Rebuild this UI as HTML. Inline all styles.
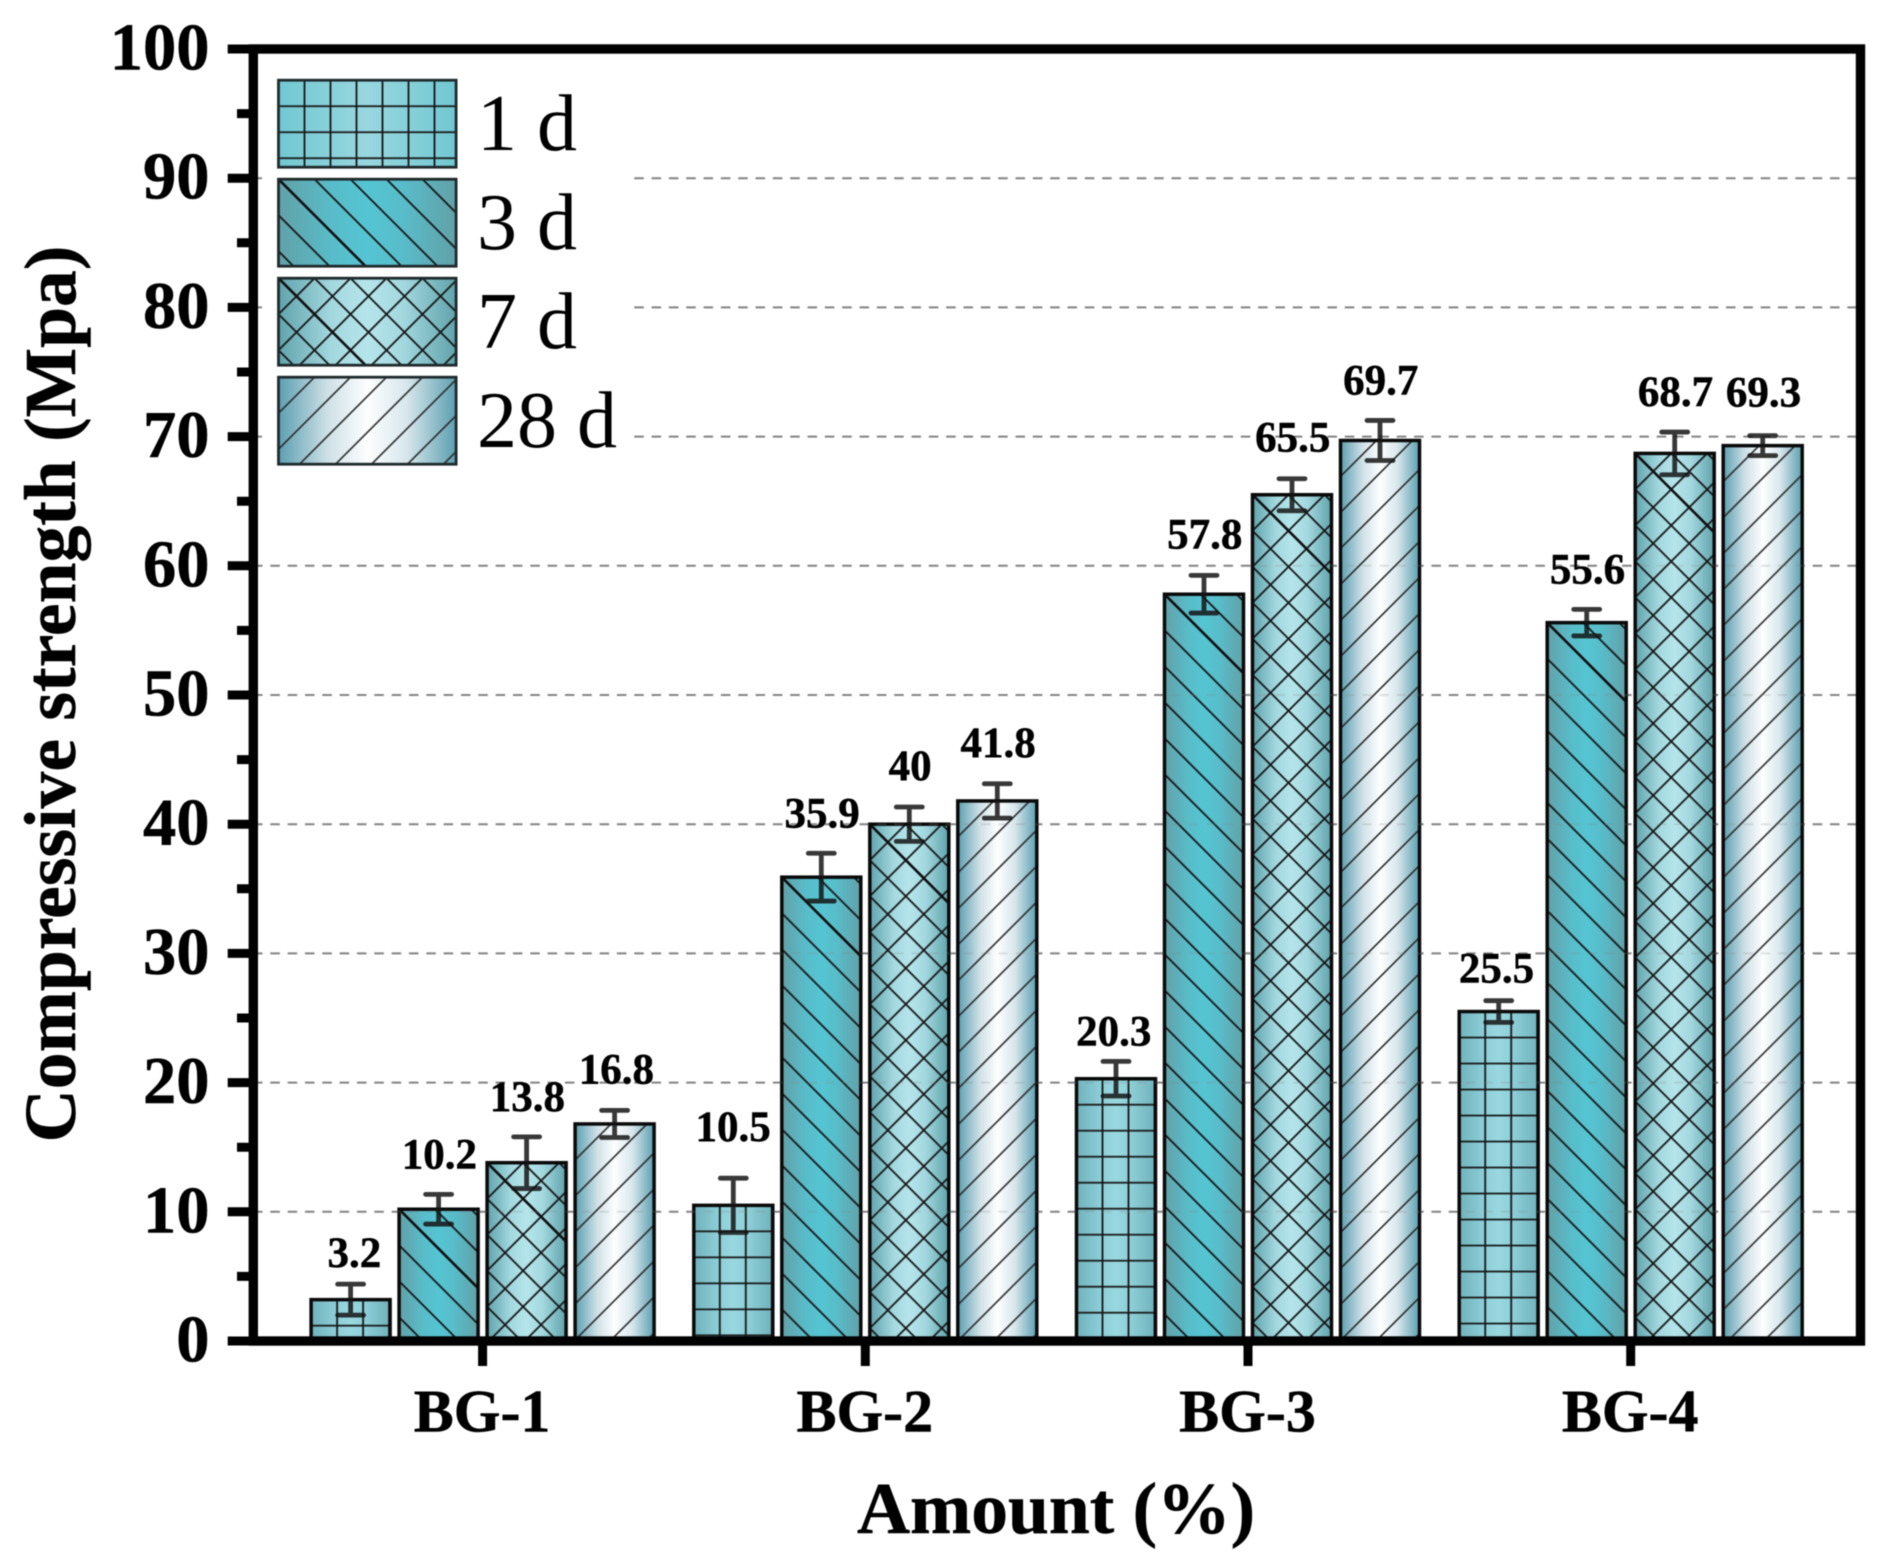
<!DOCTYPE html>
<html lang="en">
<head>
<meta charset="utf-8">
<title>Compressive strength by amount</title>
<style>
html,body{margin:0;padding:0;background:#fff;width:1890px;height:1563px;overflow:hidden}
svg{display:block;filter:blur(0.55px)}
text{font-family:"Liberation Serif",serif;fill:#000}
.b{font-weight:700;stroke:#000;stroke-width:0.5px}
</style>
</head>
<body>
<svg id="chart" xmlns="http://www.w3.org/2000/svg" width="1890" height="1563" viewBox="0 0 1890 1563">
<defs id="defs">
<linearGradient id="g1" x1="0" x2="1" y1="0" y2="0"><stop offset="0" stop-color="#70b2bc"/><stop offset=".3" stop-color="#8ccdd6"/><stop offset=".5" stop-color="#99d8e0"/><stop offset=".7" stop-color="#8ccdd6"/><stop offset="1" stop-color="#70b2bc"/></linearGradient>
<linearGradient id="g1legend" x1="0" x2="1" y1="0" y2="0"><stop offset="0" stop-color="#71c8d2"/><stop offset=".5" stop-color="#98d7df"/><stop offset="1" stop-color="#71c8d2"/></linearGradient>
<linearGradient id="g3" x1="0" x2="1" y1="0" y2="0"><stop offset="0" stop-color="#62a1a8"/><stop offset=".3" stop-color="#58bcc9"/><stop offset=".5" stop-color="#55c5d3"/><stop offset=".7" stop-color="#58bcc9"/><stop offset="1" stop-color="#62a1a8"/></linearGradient>
<linearGradient id="g7" x1="0" x2="1" y1="0" y2="0"><stop offset="0" stop-color="#60a3ac"/><stop offset=".3" stop-color="#a3d8df"/><stop offset=".5" stop-color="#b5e5eb"/><stop offset=".7" stop-color="#a3d8df"/><stop offset="1" stop-color="#60a3ac"/></linearGradient>
<linearGradient id="g28" x1="0" x2="1" y1="0" y2="0"><stop offset="0" stop-color="#5c9fb1"/><stop offset=".28" stop-color="#cfe1e7"/><stop offset=".5" stop-color="#fdfeff"/><stop offset=".72" stop-color="#d8e7ec"/><stop offset="1" stop-color="#5c9fb1"/></linearGradient>
</defs>
<g id="grid-under"></g>
<g id="bars"></g>
<g id="grid-over" opacity="0.22"></g>
<rect x="262" y="60" width="371" height="412" fill="#fff"></rect>
<g id="errors"></g>
<g id="labels"></g>
<g id="axes"></g>
<g id="legend"></g>
<text class="b" transform="translate(75 694) rotate(-90)" text-anchor="middle" font-size="73.6">Compressive strength (Mpa)</text>
<text class="b" x="1056" y="1533" text-anchor="middle" font-size="73.5">Amount (%)</text>
</svg>
<script>
// Chart data
const categories = ['BG-1', 'BG-2', 'BG-3', 'BG-4'];
const seriesNames = ['1 d', '3 d', '7 d', '28 d'];
const values1d = [3.2, 10.5, 20.3, 25.5];
const values3d = [10.2, 35.9, 57.8, 55.6];
const values7d = [13.8, 40, 65.5, 68.7];
const values28d = [16.8, 41.8, 69.7, 69.3];
const errors1d = [1.2, 2.1, 1.34, 0.84];
const errors3d = [1.15, 1.85, 1.46, 1.03];
const errors7d = [2.0, 1.33, 1.24, 1.65];
const errors28d = [1.05, 1.33, 1.55, 0.77];
const yMajorTicks = [0, 10, 20, 30, 40, 50, 60, 70, 80, 90, 100];
const yMinorTicks = [5, 15, 25, 35, 45, 55, 65, 75, 85, 95];
const gridValues = [10, 20, 30, 40, 50, 60, 70, 80, 90];

// Layout: clearance in px between an error-bar top and its printed value
const labelLift1d = [17, 37, 16, 18];
const labelLift3d = [26, 26, 27, 26];
const labelLift7d = [26, 27, 27, 26];
const labelLift28d = [27, 27, 26, 29];

// Layout: horizontal nudge in px of a printed value from its bar centre
const labelShift1d = [3, -1, -3, -3];
const labelShift3d = [0, 0, 0, 0];
const labelShift7d = [0, 0, 0, 0];
const labelShift28d = [1, 0, 0, 0];

const allValues = [values1d, values3d, values7d, values28d];
const allErrors = [errors1d, errors3d, errors7d, errors28d];
const allLifts = [labelLift1d, labelLift3d, labelLift7d, labelLift28d];
const allShifts = [labelShift1d, labelShift3d, labelShift7d, labelShift28d];
const seriesKeys = ['1d', '3d', '7d', '28d'];
const gradients = ['g1', 'g3', 'g7', 'g28'];
const hatchKinds = ['grid', 'back', 'cross', 'fwd'];

const NS = 'http://www.w3.org/2000/svg';
const PLOT = { left: 253.3, right: 1860.5, top: 49, bottom: 1341 };
const GROUP0 = 482.6, GROUP_STEP = 382.7, BAR_STEP = 88, BAR_W = 79;

function yScale(v) { return PLOT.bottom - (v / 100) * (PLOT.bottom - PLOT.top); }
function xGroup(i) { return GROUP0 + i * GROUP_STEP; }
function xBar(i, s) { return xGroup(i) + (s - 1.5) * BAR_STEP; }

function make(tag, attrs, parent) {
  const el = document.createElementNS(NS, tag);
  for (const k in attrs) el.setAttribute(k, attrs[k]);
  if (parent) parent.appendChild(el);
  return el;
}

const defs = document.getElementById('defs');
let patternCount = 0;
function hatchPattern(kind, x, y) {
  const id = 'hatch' + (patternCount++);
  const tile = kind === 'grid' ? 26 : 36;
  const p = make('pattern', { id: id, patternUnits: 'userSpaceOnUse', x: x, y: y, width: tile, height: tile }, defs);
  const back = 'M0 0L36 36M-9 27L9 45M27 -9L45 9';
  const fwd = 'M0 36L36 0M-9 9L9 -9M27 45L45 27';
  let d = 'M0 0H26M0 0V26M0 26H26M26 0V26';
  if (kind === 'back') d = back;
  if (kind === 'fwd') d = fwd;
  if (kind === 'cross') d = back + fwd;
  make('path', { d: d, fill: 'none', stroke: kind === 'fwd' ? '#2b2b2b' : '#161616', 'stroke-width': kind === 'fwd' ? 1.6 : 1.8 }, p);
  return id;
}

function drawBarShape(parent, s, gradient, x, y, w, h, sw, stroke) {
  const fillRect = make('rect', { x: x, y: y, width: w, height: h, fill: 'url(#' + gradient + ')' }, parent);
  
  
  const kind = hatchKinds[s];
  const hatch = make('rect', { x: x, y: y, width: w, height: h, fill: 'url(#' + hatchPattern(kind, x, y) + ')' }, parent);
  
  
  if (kind === 'back' || kind === 'cross') {
    const len = Math.min(w, h);
    const corner = make('line', { x1: x, y1: y, x2: x + len, y2: y + len, stroke: '#111', 'stroke-width': 2.6 }, parent);
    
    
  }
  const outline = make('rect', { x: x, y: y, width: w, height: h, fill: 'none', stroke: stroke, 'stroke-width': sw }, parent);
  
  
}

// Gridlines (drawn under the bars, and faintly over them)
function drawGrid(parent) {
  gridValues.forEach(function (v) {
    const line = make('line', {
      x1: PLOT.left + 4, x2: PLOT.right - 4, y1: yScale(v), y2: yScale(v),
      stroke: '#858585', 'stroke-width': 2, 'stroke-dasharray': '9.5 7.83', 'stroke-dashoffset': 4.3
    }, parent);
    
    
  });
}
drawGrid(document.getElementById('grid-under'));
drawGrid(document.getElementById('grid-over'));

// Bars, error bars, value labels
const barsG = document.getElementById('bars');
const errG = document.getElementById('errors');
const labG = document.getElementById('labels');
categories.forEach(function (cat, i) {
  allValues.forEach(function (series, s) {
    const v = series[i], e = allErrors[s][i], cx = xBar(i, s);
    const top = yScale(v);
    const g = make('g', {}, barsG);
    
    
    drawBarShape(g, s, gradients[s], cx - BAR_W / 2, top, BAR_W, yScale(0) - top, 3.5, '#0a0a0a');

    const yHi = yScale(v + e), yLo = yScale(v - e);
    const eg = make('g', { stroke: '#151515', 'stroke-opacity': 0.85, 'stroke-linecap': 'round', fill: 'none' }, errG);
    
    
    make('path', {
      d: 'M' + (cx - 13) + ' ' + yHi + 'H' + (cx + 13) + 'M' + (cx - 13) + ' ' + yLo + 'H' + (cx + 13) +
         'M' + cx + ' ' + yHi + 'V' + yLo,
      'stroke-width': 4.8
    }, eg);

    const t = make('text', { x: cx + 0.8 + allShifts[s][i], y: yHi - allLifts[s][i], 'text-anchor': 'middle', 'font-size': 43, class: 'b' }, labG);
    
    
    t.textContent = String(v);
  });
});

// Axes
const axesG = document.getElementById('axes');
const frame = make('rect', {
  x: PLOT.left, y: PLOT.top, width: PLOT.right - PLOT.left, height: PLOT.bottom - PLOT.top,
  fill: 'none', stroke: '#000', 'stroke-width': 9.4
}, axesG);



yMajorTicks.forEach(function (v) {
  const y = yScale(v);
  const tick = make('line', { x1: 227.7, x2: PLOT.left, y1: y, y2: y, stroke: '#000', 'stroke-width': 9 }, axesG);
  
  
  const t = make('text', { x: 209.5, y: y + 20.5, 'text-anchor': 'end', 'font-size': 66.5, class: 'b' }, axesG);
  
  
  t.textContent = String(v);
});
yMinorTicks.forEach(function (v) {
  const y = yScale(v);
  const tick = make('line', { x1: 237, x2: PLOT.left, y1: y, y2: y, stroke: '#000', 'stroke-width': 9 }, axesG);
  
  
});
categories.forEach(function (cat, i) {
  const x = xGroup(i);
  const tick = make('line', { x1: x, x2: x, y1: PLOT.bottom, y2: 1366, stroke: '#000', 'stroke-width': 9 }, axesG);
  
  
  const t = make('text', { x: x - 0.5, y: 1431.5, 'text-anchor': 'middle', 'font-size': 60, class: 'b' }, axesG);
  
  
  t.textContent = cat;
});

// Legend
const legendG = document.getElementById('legend');
const legendGradients = ['g1legend', 'g3', 'g7', 'g28'];
seriesNames.forEach(function (name, s) {
  const g = make('g', {}, legendG);
  
  
  const y = 80.2 + s * 99;
  drawBarShape(g, s, legendGradients[s], 278.5, y, 177.6, 87, 2.8, '#1e2a2c');
  const t = make('text', { x: 477, y: 150 + s * 99, 'font-size': 80 }, g);
  
  
  t.textContent = name;
});
</script>
</body>
</html>
